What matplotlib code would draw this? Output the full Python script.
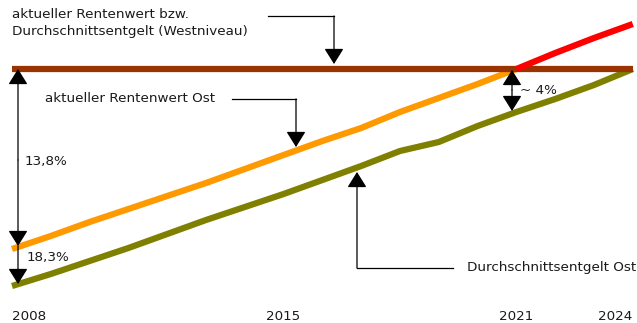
import matplotlib
matplotlib.use("Agg")
import matplotlib.pyplot as plt
from matplotlib.patches import FancyArrowPatch

# ---- data (index, West level = 100) ----
years = list(range(2008, 2025))
west = [100.0] * len(years)
rentenwert_ost_years = list(range(2008, 2022))
rentenwert_ost = [82.0, 83.3, 84.7, 86.0, 87.3, 88.6, 90.0, 91.4, 92.8, 94.1, 95.7, 97.1, 98.5, 100.0]
entgelt_ost = [78.3, 79.5, 80.8, 82.1, 83.5, 84.9, 86.2, 87.5, 88.9, 90.3, 91.8, 92.7, 94.3, 95.7, 97.0, 98.4, 100.0]
rw_after_years = [2021, 2022, 2023, 2024]
rw_after = [100.0, 101.6, 103.1, 104.5]

tick_years = [2008, 2015, 2021, 2024]
tick_labels = ["2008", "2015", "2021", "2024"]

# ---- figure ----
W, H = 637, 323
fig = plt.figure(figsize=(W / 100, H / 100), dpi=100)
ax = fig.add_axes([0, 23 / H, 1, 300 / H])
PX = 38.8  # px per year
x0 = 2008 - 12 / PX
x1 = 2008 + (W - 12) / PX
ax.set_xlim(x0, x1)
ax.set_ylim(100 - (300 - 69) / 10, 100 + 69 / 10)
for s in ax.spines.values():
    s.set_visible(False)
ax.set_yticks([])
tc = "#1a1a1a"
fs = 9.7
ax.set_xticks(tick_years)
ax.set_xticklabels(tick_labels, fontsize=fs, color=tc)
ax.tick_params(axis="x", length=0, pad=7)
lbls = ax.get_xticklabels()
lbls[0].set_ha("left")
lbls[-1].set_ha("right")

def px2x(px):
    return 2008 + (px - 12) / PX

def py2y(py):
    return 100 - (py - 69) / 10

lw = 4.5
ax.plot(rentenwert_ost_years, rentenwert_ost, color="#FF9900", lw=lw, solid_capstyle="butt", zorder=2)
ax.plot(years, entgelt_ost, color="#808000", lw=lw, solid_capstyle="butt", zorder=2)
ax.plot(years, west, color="#993300", lw=lw, solid_capstyle="butt", zorder=3)
ax.plot(rw_after_years, rw_after, color="#FF0000", lw=lw, solid_capstyle="butt", zorder=4)

def arrow(xa, ya, xb, yb, style="-|>"):
    a = FancyArrowPatch((xa, ya), (xb, yb), arrowstyle=style + ",head_length=0.8,head_width=0.5",
                        mutation_scale=12, color="black", lw=0.9, shrinkA=0, shrinkB=0, zorder=6)
    ax.add_patch(a)

# top-left label
ax.text(px2x(12), py2y(23), "aktueller Rentenwert bzw.\nDurchschnittsentgelt (Westniveau)",
        fontsize=fs, color=tc, ha="left", va="center", linespacing=1.3)
ax.plot([px2x(268), px2x(334)], [py2y(16), py2y(16)], color="black", lw=0.9)
arrow(px2x(334), py2y(16), px2x(334), py2y(64))

# Rentenwert Ost label
ax.text(px2x(45), py2y(99), "aktueller Rentenwert Ost", fontsize=fs, color=tc, ha="left", va="center")
ax.plot([px2x(232), px2x(296)], [py2y(99), py2y(99)], color="black", lw=0.9)
arrow(px2x(296), py2y(99), px2x(296), py2y(147))

# Durchschnittsentgelt Ost label
ax.text(px2x(467), py2y(268), "Durchschnittsentgelt Ost", fontsize=fs, color=tc, ha="left", va="center")
ax.plot([px2x(453), px2x(357)], [py2y(268), py2y(268)], color="black", lw=0.9)
arrow(px2x(357), py2y(268), px2x(357), py2y(172))

# left gap arrows
xl = px2x(18)
arrow(xl, py2y(160), xl, 100.0)
arrow(xl, py2y(160), xl, py2y(246))
arrow(xl, py2y(246), xl, py2y(284))
ax.text(px2x(25), py2y(162), "13,8%", fontsize=fs, color=tc, ha="left", va="center")
ax.text(px2x(27), py2y(257), "18,3%", fontsize=fs, color=tc, ha="left", va="center")

# ~4% arrow at 2021
xm = px2x(512)
arrow(xm, py2y(90), xm, py2y(70))
arrow(xm, py2y(90), xm, py2y(111))
ax.text(px2x(520), py2y(90), "~ 4%", fontsize=fs, color=tc, ha="left", va="center")

fig.savefig("out.png", dpi=100)
